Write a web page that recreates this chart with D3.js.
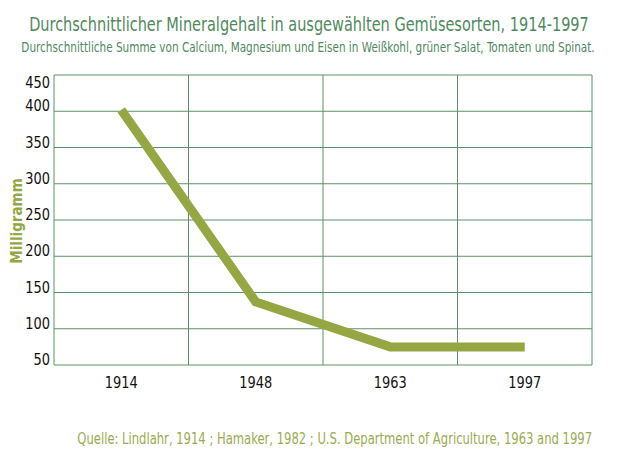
<!DOCTYPE html>
<html>
<head>
  <meta charset="utf-8">
  <script src="https://d3js.org/d3.v7.min.js"></script>
  <style type="text/css">
body { margin: 0; background: #fff; }
svg { display: block; }
text { font-family: "DejaVu Sans Condensed", "Liberation Sans Narrow", "DejaVu Sans", sans-serif; font-stretch: condensed; }
  </style>
</head>
<body>
  <script type="text/javascript">
var years = ["1914", "1948", "1963", "1997"];
var milligramm = [402, 137, 75, 75];
var yTicks = [50, 100, 150, 200, 250, 300, 350, 400, 450];

var width = 620, height = 460;
var margin = {top: 75, right: 28, bottom: 95, left: 54};
var innerW = width - margin.left - margin.right,
    innerH = height - margin.top - margin.bottom;

var gridColor = "#5b9168", lineColor = "#94a743", titleColor = "#4f8a5d";

var svg = d3.select("body").append("svg")
    .attr("width", width)
    .attr("height", height);

var g = svg.append("g")
    .attr("transform", "translate(" + margin.left + "," + margin.top + ")");

var x = d3.scaleBand().domain(years).range([0, innerW]);
var y = d3.scaleLinear().domain([50, 450]).range([innerH, 0]);

// horizontal grid
g.selectAll(".hgrid")
  .data(yTicks)
  .enter().append("line")
    .attr("x1", 0).attr("x2", innerW)
    .attr("y1", function(d) { return y(d); })
    .attr("y2", function(d) { return y(d); })
    .attr("stroke", gridColor).attr("stroke-width", 1);

// vertical grid (band edges)
var edges = years.map(function(d) { return x(d); }).concat([innerW]);
g.selectAll(".vgrid")
  .data(edges)
  .enter().append("line")
    .attr("x1", function(d) { return d; }).attr("x2", function(d) { return d; })
    .attr("y1", 0).attr("y2", innerH)
    .attr("stroke", gridColor).attr("stroke-width", 1);

// y labels
g.selectAll(".ylab")
  .data(yTicks)
  .enter().append("text")
    .attr("transform", function(d) {
      return "translate(-4," + (d === 450 ? y(d) + 13 : y(d)) + ") scale(0.9,1)";
    })
    .attr("text-anchor", "end")
    .style("font-size", "16px")
    .attr("fill", "#111")
    .text(function(d) { return d; });

// x labels
g.selectAll(".xlab")
  .data(years)
  .enter().append("text")
    .attr("transform", function(d) {
      return "translate(" + (x(d) + x.bandwidth() / 2) + "," + (innerH + 23) + ") scale(0.9,1)";
    })
    .attr("text-anchor", "middle")
    .style("font-size", "16px")
    .attr("fill", "#111")
    .text(function(d) { return d; });

// data line
var line = d3.line()
    .x(function(d, i) { return x(years[i]) + x.bandwidth() / 2; })
    .y(function(d) { return y(d); });

g.append("path")
    .datum(milligramm)
    .attr("d", line)
    .attr("fill", "none")
    .attr("stroke", lineColor)
    .attr("stroke-width", 9)
    .attr("stroke-linejoin", "miter");

// y axis title
svg.append("text")
    .attr("transform", "translate(22,221) rotate(-90)")
    .attr("text-anchor", "middle")
    .style("font-size", "15px")
    .style("font-weight", "bold")
    .attr("fill", lineColor)
    .text("Milligramm");

// squeeze the text horizontally so it spans the wanted width
function fit(sel, cx, cy, w, size) {
  sel.style("font-size", size + "px");
  var len = sel.node().getComputedTextLength();
  sel.attr("transform", "translate(" + cx + "," + cy + ") scale(" + (w / len).toFixed(4) + ",1)");
  return sel;
}

// titles
fit(svg.append("text")
    .attr("text-anchor", "middle")
    .attr("fill", titleColor)
    .text("Durchschnittlicher Mineralgehalt in ausgewählten Gemüsesorten, 1914-1997"), 309, 31, 560, 20);

fit(svg.append("text")
    .attr("text-anchor", "middle")
    .attr("fill", titleColor)
    .text("Durchschnittliche Summe von Calcium, Magnesium und Eisen in Weißkohl, grüner Salat, Tomaten und Spinat."), 308, 52, 574, 14);

fit(svg.append("text")
    .attr("text-anchor", "end")
    .attr("fill", "#9aab4f")
    .text("Quelle: Lindlahr, 1914 ; Hamaker, 1982 ; U.S. Department of Agriculture, 1963 and 1997"), 592, 444, 515, 16);
  </script>
</body>
</html>
